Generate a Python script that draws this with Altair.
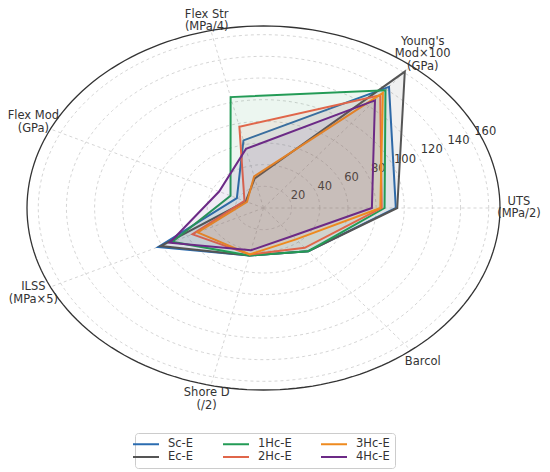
import math
import altair as alt
import pandas as pd

# ---------------- data ----------------
axis_labels = ["UTS\n(MPa/2)", "Young's\nMod×100\n(GPa)", "Flex Str\n(MPa/4)",
               "Flex Mod\n(GPa)", "ILSS\n(MPa×5)", "Shore D\n(/2)", "Barcol"]
series_names = ["Sc-E", "Ec-E", "1Hc-E", "2Hc-E", "3Hc-E", "4Hc-E"]
sc_e = [94, 143, 64, 21, 83, 45, 51]
ec_e = [95, 161, 28, 14, 81, 45, 51]
hc1_e = [86, 139, 105, 26, 72, 45, 51]
hc2_e = [84, 133, 77, 15, 56, 44, 47]
hc3_e = [83, 136, 30, 13, 52, 44, 37]
hc4_e = [77, 127, 56, 35, 74, 40, 33]
series_colors = ["#2b6cb0", "#555555", "#239b56", "#e0664a", "#ee8a1f", "#6c2a86"]
radial_ticks = [20, 40, 60, 80, 100, 120, 140, 160]
R_MAX = 168

N = len(axis_labels)
values = [sc_e, ec_e, hc1_e, hc2_e, hc3_e, hc4_e]

W, H = 473, 364
PAD_TOP = 18
PX_Y = 2 * R_MAX / H  # data units per vertical pixel
LINE_H = 12.5

poly_rows = []
for s, vals in zip(series_names, values):
    for k, v in enumerate(vals):
        poly_rows.append({"series": s, "k": k, "value": v})
poly_df = pd.DataFrame(poly_rows)

legend_order = ["Sc-E", "1Hc-E", "3Hc-E", "Ec-E", "2Hc-E", "4Hc-E"]
color_map = dict(zip(series_names, series_colors))
color_scale = alt.Scale(domain=legend_order, range=[color_map[s] for s in legend_order])

xs = alt.Scale(domain=[-R_MAX, R_MAX], nice=False, zero=False)
ys = alt.Scale(domain=[-R_MAX, R_MAX], nice=False, zero=False)
X = lambda f: alt.X(f, type="quantitative", scale=xs, axis=None)
Y = lambda f: alt.Y(f, type="quantitative", scale=ys, axis=None)

ang = f"datum.k * 2 * PI / {N}"

grid_rows = []
for r in radial_ticks:
    for d in range(0, 360, 2):
        grid_rows.append({"r": r, "deg": d})
grid_df = pd.DataFrame(grid_rows)
grid = alt.Chart(grid_df).transform_calculate(
    x="datum.r * cos(datum.deg * PI / 180)",
    y="datum.r * sin(datum.deg * PI / 180)",
).mark_line(interpolate="linear-closed", color="#d0d0d0", strokeWidth=0.9,
            strokeDash=[3, 3]).encode(
    x=X("x"), y=Y("y"), detail="r:N", order="deg:Q")

outer_df = pd.DataFrame({"r": [R_MAX] * 180, "deg": list(range(0, 360, 2))})
outer = alt.Chart(outer_df).transform_calculate(
    x="datum.r * cos(datum.deg * PI / 180)",
    y="datum.r * sin(datum.deg * PI / 180)",
).mark_line(interpolate="linear-closed", color="#333333", strokeWidth=1.3).encode(
    x=X("x"), y=Y("y"), order="deg:Q")

spoke_df = pd.DataFrame({"k": list(range(N))})
spokes = alt.Chart(spoke_df).transform_calculate(
    x0="0", y0="0",
    x1=f"{R_MAX} * cos({ang})", y1=f"{R_MAX} * sin({ang})",
).mark_rule(color="#d0d0d0", strokeWidth=0.9, strokeDash=[3, 3]).encode(
    x=X("x0"), y=Y("y0"), x2="x1:Q", y2="y1:Q")

tick_df = pd.DataFrame({"t": radial_ticks})
tick_labels = alt.Chart(tick_df).transform_calculate(
    x="(datum.t * 1.04 + 6) * cos(24 * PI / 180)",
    y="(datum.t * 1.04 + 6) * sin(24 * PI / 180)",
).mark_text(font="DejaVu Sans", fontSize=11.5, color="#333333",
            align="center", baseline="middle").encode(
    x=X("x"), y=Y("y"), text="t:Q")

# first-line y may not rise above the top edge of the page
y_top_limit = R_MAX + (PAD_TOP - 6.5) * PX_Y
cat_df = pd.DataFrame({"k": list(range(N)), "label": axis_labels,
                       "nl": [lab.count("\n") for lab in axis_labels]})
cat_labels = alt.Chart(cat_df).transform_calculate(
    x=f"{R_MAX * 1.08} * cos({ang})",
    y=f"min({R_MAX * 1.08} * sin({ang}) + datum.nl * {LINE_H / 2 * PX_Y}, {y_top_limit})",
).mark_text(font="DejaVu Sans", fontSize=11.5, color="#333333", align="center",
            baseline="middle", lineBreak="\n", lineHeight=LINE_H).encode(
    x=X("x"), y=Y("y"), text="label:N")

legend = alt.Legend(
    title=None, orient="none", legendX=108, legendY=407, columns=3,
    direction="horizontal", symbolType="M-2.6,0H2.6", symbolSize=100,
    symbolStrokeWidth=2, labelFont="DejaVu Sans", labelFontSize=11.5,
    labelColor="#333333", labelOffset=16, columnPadding=25, rowPadding=1,
    padding=5, strokeColor="#cccccc", fillColor="white", cornerRadius=3,
    values=legend_order,
)

polys = []
for s in series_names:
    polys.append(
        alt.Chart(poly_df).transform_filter(alt.datum.series == s).transform_calculate(
            x=f"datum.value * cos({ang})",
            y=f"datum.value * sin({ang})",
        ).mark_line(interpolate="linear-closed", strokeWidth=2, fillOpacity=0.085).encode(
            x=X("x"), y=Y("y"),
            color=alt.Color("series:N", scale=color_scale, legend=legend),
            fill=alt.Fill("series:N", scale=color_scale, legend=None),
            order=alt.Order("k:Q"),
        )
    )

chart = alt.layer(grid, spokes, tick_labels, *polys, outer, cat_labels).properties(
    width=W, height=H,
    autosize=alt.AutoSizeParams(type="none"),
    padding={"left": 19, "top": PAD_TOP, "right": 42, "bottom": 82},
).configure_view(stroke=None)

chart.save("out.html", embed_options={"renderer": "svg", "actions": False})
